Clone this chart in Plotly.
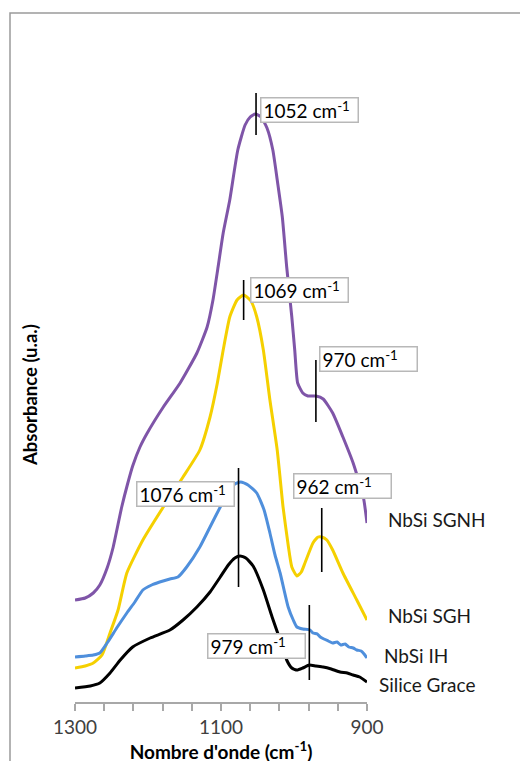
import plotly.graph_objects as go

# ---------------- data (wavenumber cm-1, absorbance a.u.) ----------------
sgnh_wn = [1300, 1286, 1275, 1266, 1256, 1248, 1236, 1228, 1221, 1211, 1201, 1179, 1156, 1133, 1119, 1111,
           1104, 1097, 1088, 1077, 1067, 1060, 1053, 1045, 1037, 1029, 1022, 1016, 1010, 1003,
           999, 995, 988, 981, 970, 960, 947, 933, 919, 905, 900]
sgnh_abs = [1.02, 1.04, 1.09, 1.17, 1.34, 1.54, 1.95, 2.18, 2.36, 2.55, 2.69, 2.95, 3.19, 3.49, 3.75, 4.02,
            4.35, 4.69, 5.02, 5.52, 5.77, 5.85, 5.88, 5.85, 5.74, 5.52, 5.17, 4.85, 4.35, 3.85,
            3.52, 3.19, 3.09, 3.06, 3.06, 3.03, 2.89, 2.65, 2.39, 2.05, 1.79]

sgh_wn = [1300, 1286, 1275, 1263, 1252, 1241, 1229, 1207, 1179, 1152, 1129, 1115, 1105, 1097,
          1088, 1078, 1069, 1059, 1051, 1042, 1033, 1023, 1015, 1008, 1003, 996, 990, 985, 974,
          967, 962, 955, 947, 933, 914, 900]
sgh_abs = [0.34, 0.36, 0.39, 0.47, 0.69, 0.92, 1.29, 1.62, 1.95, 2.25, 2.52, 2.85, 3.19, 3.52,
           3.85, 4.02, 4.07, 4.01, 3.85, 3.52, 3.02, 2.52, 1.95, 1.57, 1.35, 1.26, 1.30, 1.39, 1.59,
           1.65, 1.65, 1.62, 1.52, 1.29, 1.02, 0.82]

ih_wn = [1300, 1286, 1275, 1266, 1256, 1242, 1229, 1218, 1207, 1195, 1184, 1170, 1159, 1147,
         1129, 1115, 1101, 1090, 1081, 1073, 1063, 1051, 1041, 1033, 1026, 1019, 1008, 1001, 996,
         988, 978, 974, 968, 964, 959, 953, 947, 941, 936, 930, 925, 919, 914, 908, 904, 900]
ih_abs = [0.45, 0.46, 0.47, 0.49, 0.59, 0.75, 0.89, 1.00, 1.12, 1.17, 1.20, 1.23, 1.25, 1.35,
          1.55, 1.75, 1.95, 2.10, 2.18, 2.20, 2.17, 2.09, 1.92, 1.69, 1.47, 1.29, 0.95, 0.82, 0.75,
          0.73, 0.72, 0.69, 0.68, 0.65, 0.63, 0.61, 0.59, 0.60, 0.57, 0.58, 0.55, 0.54, 0.52, 0.51,
          0.48, 0.44]

grace_wn = [1300, 1279, 1266, 1252, 1238, 1221, 1197, 1170, 1152, 1133, 1115, 1101, 1090, 1081,
            1074, 1066, 1056, 1042, 1030, 1019, 1010, 1003, 996, 988, 979, 970, 960, 949, 937,
            927, 919, 910, 900]
grace_abs = [0.14, 0.16, 0.19, 0.29, 0.42, 0.55, 0.64, 0.72, 0.82, 0.95, 1.10, 1.25, 1.37, 1.44,
             1.46, 1.44, 1.36, 1.12, 0.85, 0.62, 0.42, 0.34, 0.32, 0.34, 0.37, 0.36, 0.35, 0.33,
             0.30, 0.29, 0.27, 0.25, 0.20]

series_names = ["NbSi SGNH", "NbSi SGH", "NbSi IH", "Silice Grace"]
series_label_y = [1.83, 0.87, 0.47, 0.18]

# peak markers
peak_wn = [1052, 1069, 970, 962, 1076, 979]
peak_lo = [5.67, 3.82, 2.80, 1.30, 1.15, 0.22]
peak_hi = [6.09, 4.22, 3.42, 1.94, 2.34, 0.97]
box_left_wn = [1046.6, 1060.3, 965.7, 1001.4, 1216.4, 1119.2]
box_mid_y = [5.925, 4.125, 3.43, 2.165, 2.085, 0.56]

tick_vals = [1300, 1260, 1220, 1180, 1140, 1100, 1060, 1020, 980, 940, 900]
tick_text = ["1300", "", "", "", "", "1100", "", "", "", "", "900"]

# ---------------- figure ----------------
FONT = "Lato, Open Sans, sans-serif"
colors = ["#7f55a8", "#f5d000", "#4f8fdc", "#000000"]

# page offset of the figure (body margin) is 8 px
L, T, PW, PH = 67, 32, 292, 662

fig = go.Figure()
for wn, ab, name, c in zip([sgnh_wn, sgh_wn, ih_wn, grace_wn],
                           [sgnh_abs, sgh_abs, ih_abs, grace_abs], series_names, colors):
    fig.add_trace(go.Scatter(x=wn, y=ab, mode="lines", name=name,
                             line=dict(color=c, width=3, shape="spline", smoothing=0.5),
                             showlegend=False, hoverinfo="skip"))

shapes = []
for w, lo, hi in zip(peak_wn, peak_lo, peak_hi):
    shapes.append(dict(type="line", xref="x", yref="y", x0=w, x1=w, y0=lo, y1=hi,
                       line=dict(color="black", width=1.6)))
# outer chart border
shapes.append(dict(type="rect", xref="paper", yref="paper",
                   x0=(10 - 75) / PW, x1=1.6, y0=-0.2, y1=(702 - 13) / PH,
                   line=dict(color="#9a9a9a", width=1.5), fillcolor="rgba(0,0,0,0)", layer="below"))

annotations = []
for w, y, lab in zip(box_left_wn, box_mid_y, peak_wn):
    annotations.append(dict(x=w, y=y, xref="x", yref="y", xanchor="left", yanchor="middle",
                            text=f"{lab} cm<sup>-1</sup>", showarrow=False, align="left",
                            font=dict(family=FONT, size=19, color="black"),
                            bgcolor="white", bordercolor="#b8b8b8", borderwidth=1.5,
                            borderpad=2, width=92, height=19))
label_x = [386, 386, 382, 377]
for name, y, lx in zip(series_names, series_label_y, label_x):
    annotations.append(dict(x=(lx - 75) / PW, y=y, xref="paper", yref="y", xanchor="left",
                            yanchor="middle", text=name, showarrow=False,
                            font=dict(family=FONT, size=19, color="#1a1a1a")))
annotations.append(dict(x=(30 - 75) / PW, y=(702 - 395) / 100, xref="paper", yref="y",
                        text="<b>Absorbance (u.a.)</b>", textangle=-90, showarrow=False,
                        xanchor="center", yanchor="middle",
                        font=dict(family=FONT, size=18.5, color="black")))

fig.update_layout(
    width=528, height=761,
    margin=dict(l=L, r=528 - L - PW, t=T, b=761 - T - PH),
    paper_bgcolor="white", plot_bgcolor="white",
    shapes=shapes, annotations=annotations,
    font=dict(family=FONT),
    xaxis=dict(range=[1300, 900], tickvals=tick_vals, ticktext=tick_text,
               showgrid=False, zeroline=False, showline=True, linecolor="#a8a8a8", linewidth=1.5,
               ticks="outside", ticklen=7, tickcolor="#a8a8a8", tickwidth=1.5,
               tickfont=dict(family=FONT, size=19, color="#404040"),
               title=dict(text="<b>Nombre d'onde (cm<sup>-1</sup>)</b>", standoff=2,
                          font=dict(family=FONT, size=19, color="black"))),
    yaxis=dict(range=[0, 6.62], showgrid=False, zeroline=False, showline=False,
               showticklabels=False, ticks=""),
)

fig.write_html("out.html")
